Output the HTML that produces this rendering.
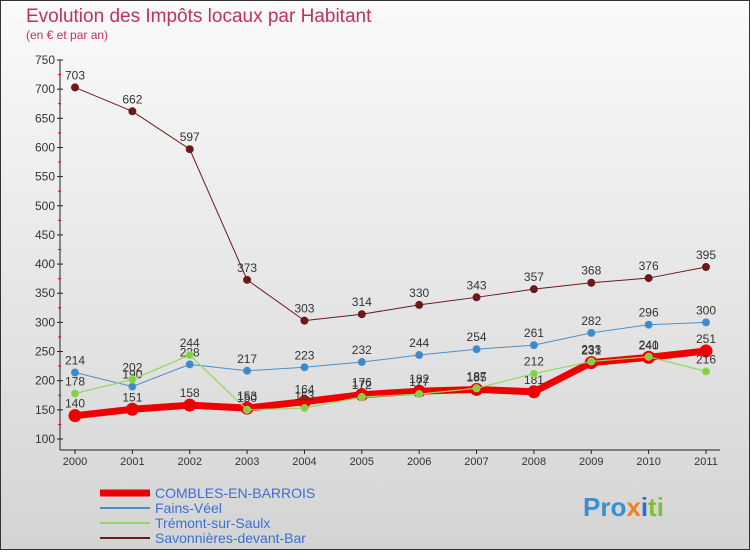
<!DOCTYPE html>
<html><head><meta charset="utf-8"><style>
body{margin:0;width:750px;height:550px;overflow:hidden;font-family:"Liberation Sans",sans-serif}
</style></head><body>
<svg id="c" width="750" height="550" xmlns="http://www.w3.org/2000/svg">
<defs><linearGradient id="bg" x1="0" y1="0" x2="0" y2="1"><stop offset="0" stop-color="#fafafa"/><stop offset="1" stop-color="#d4d4d4"/></linearGradient></defs>
<rect x="0.5" y="0.5" width="749" height="549" fill="url(#bg)" stroke="#333"/>
<text x="26" y="22" font-size="19" fill="#c03060">Evolution des Impôts locaux par Habitant</text>
<text x="26" y="39" font-size="12" fill="#c03060">(en € et par an)</text>
<g id="axes"></g><g id="series"></g><g id="legend"></g>
<text x="583" y="516" font-size="26" font-weight="bold" fill="#3a8fd0">Pro<tspan fill="#f08020">x</tspan><tspan fill="#2a70c0">i</tspan><tspan fill="#80c030">ti</tspan></text>
</svg>
<script>
const years=[2000,2001,2002,2003,2004,2005,2006,2007,2008,2009,2010,2011];
const yTicks=[100,150,200,250,300,350,400,450,500,550,600,650,700,750];
const combles=[140,151,158,153,164,176,182,185,181,231,240,251];
const fains=[214,190,228,217,223,232,244,254,261,282,296,300];
const tremont=[178,202,244,150,153,172,177,187,212,233,241,216];
const savon=[703,662,597,373,303,314,330,343,357,368,376,395];
const NS="http://www.w3.org/2000/svg";
function X(i){return 75+i*(706-75)/11;}
function Y(v){return 439-(v-100)*(439-60)/650;}
function el(t,a,p){const e=document.createElementNS(NS,t);for(const k in a)e.setAttribute(k,a[k]);p.appendChild(e);return e;}
const ax=document.getElementById('axes');
let l=el('line',{x1:60,y1:60,x2:60,y2:450,stroke:'#222'},ax);


l=el('line',{x1:60,y1:450,x2:720,y2:450,stroke:'#222'},ax);


yTicks.forEach((v,i)=>{
 el('line',{x1:57,y1:Y(v),x2:63,y2:Y(v),stroke:'#222'},ax);
 if(i<yTicks.length-1)el('line',{x1:58,y1:Y(v+25),x2:61,y2:Y(v+25),stroke:'#e00'},ax);
 const t=el('text',{x:55,y:Y(v)+4,'font-size':12,'text-anchor':'end',fill:'#333'},ax);t.textContent=v;
 
 
});
years.forEach((y,i)=>{
 el('line',{x1:X(i),y1:450,x2:X(i),y2:454,stroke:'#222'},ax);
 const t=el('text',{x:X(i),y:465,'font-size':11,'text-anchor':'middle',fill:'#333'},ax);t.textContent=y;
 
 
});
const sg=document.getElementById('series');
function draw(vals,color,w,r,fill,name){
 const g=el('g',{},sg);
 
 
 el('polyline',{points:vals.map((v,i)=>X(i)+','+Y(v)).join(' '),fill:'none',stroke:color,'stroke-width':w,'stroke-linejoin':'round'},g);
 vals.forEach((v,i)=>{
  const c=el('circle',{cx:X(i),cy:Y(v),r:r,fill:fill,stroke:color,'stroke-width':1},g);
  
  
  const t=el('text',{x:X(i),y:Y(v)-8,'font-size':12,'text-anchor':'middle',fill:'#333'},g);t.textContent=v;
  
  
 });
}
draw(savon,'#6b1a1a',1,3.5,'#6b1a1a','savonnieres-series');
draw(fains,'#4a90c8',1,3.5,'#3a8ad0','fains-series');
draw(combles,'#ee0000',7,6,'#ee0000','combles-series');
draw(tremont,'#90d860',1.2,3.5,'#80d040','tremont-series');
const lg=document.getElementById('legend');
const items=[['COMBLES-EN-BARROIS','#ee0000',7],['Fains-Véel','#4a90c8',2],['Trémont-sur-Saulx','#90d860',2],['Savonnières-devant-Bar','#6b1a1a',2]];
items.forEach((it,i)=>{
 const g=el('g',{},lg);
 
 
 const y=493+i*15;
 el('line',{x1:100,y1:y,x2:150,y2:y,stroke:it[1],'stroke-width':it[2]},g);
 const t=el('text',{x:155,y:y+5,'font-size':14,fill:'#3a70d0'},g);t.textContent=it[0];
});
</script>
</body></html>
